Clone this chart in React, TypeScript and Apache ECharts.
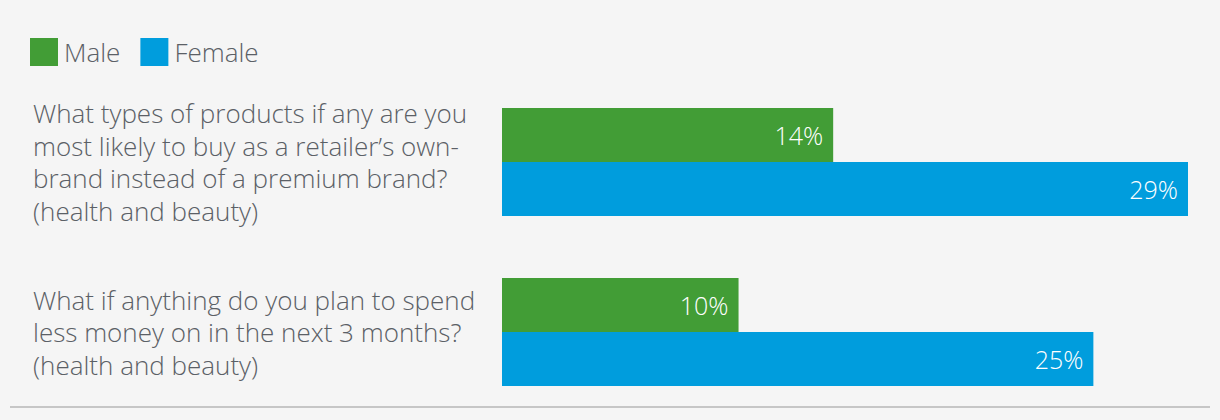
import React, { useEffect, useRef } from "react";
import * as echarts from "echarts";

const categories = [
  "What types of products if any are you\nmost likely to buy as a retailer’s own-\nbrand instead of a premium brand?\n(health and beauty)",
  "What if anything do you plan to spend\nless money on in the next 3 months?\n(health and beauty)",
];
const maleValues = [14, 10];
const femaleValues = [29, 25];
const seriesNames = ["Male", "Female"];

const FONT = "'Open Sans', sans-serif";
const TEXT_COLOR = "#5b6066";

export default function App() {
  const ref = useRef<HTMLDivElement>(null);
  useEffect(() => {
    document.body.style.margin = "0";
    const chart = echarts.init(ref.current!, null, { renderer: "svg" });
    const label = {
      show: true,
      position: "insideRight",
      distance: 10,
      color: "#ffffff",
      fontSize: 25,
      fontFamily: FONT,
      fontWeight: 300,
      formatter: "{c}%",
    };
    chart.setOption({
      animation: false,
      backgroundColor: "#f5f5f5",
      legend: {
        left: 30,
        top: 38,
        padding: 0,
        itemWidth: 28,
        itemHeight: 28,
        itemGap: 20,
        icon: "rect",
        textStyle: { fontSize: 26, color: TEXT_COLOR, fontFamily: FONT, fontWeight: 300, padding: [0, 0, 0, 1] },
        data: seriesNames,
      },
      grid: { left: 502, right: 32, top: 77, bottom: 3 },
      xAxis: { type: "value", min: 0, max: 29, show: false },
      yAxis: {
        type: "category",
        inverse: true,
        data: categories,
        axisLine: { show: false },
        axisTick: { show: false },
        axisLabel: {
          align: "left",
          margin: 469,
          fontSize: 26,
          lineHeight: 32.5,
          color: TEXT_COLOR,
          fontFamily: FONT,
          fontWeight: 300,
        },
      },
      series: [
        {
          name: seriesNames[0],
          type: "bar",
          data: maleValues,
          barWidth: 54,
          barGap: "0%",
          itemStyle: { color: "#429d36" },
          label,
        },
        {
          name: seriesNames[1],
          type: "bar",
          data: femaleValues,
          barWidth: 54,
          barGap: "0%",
          itemStyle: { color: "#009ddd" },
          label,
        },
      ],
      graphic: [
        {
          type: "line",
          shape: { x1: 10, y1: 407, x2: 1210, y2: 407 },
          style: { stroke: "#c6c6c6", lineWidth: 2 },
        },
      ],
    });
    return () => chart.dispose();
  }, []);
  return <div ref={ref} style={{ width: 1220, height: 420 }} />;
}
